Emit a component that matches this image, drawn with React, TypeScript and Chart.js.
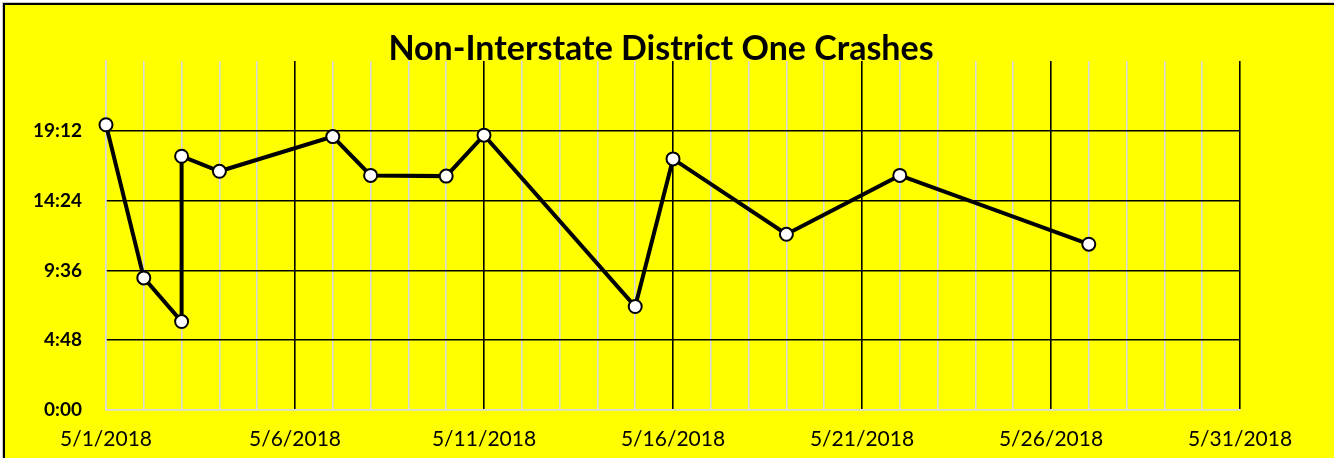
import React, { useEffect, useRef } from "react";
import { Chart, registerables } from "chart.js";

Chart.register(...registerables);

const TITLE = "Non-Interstate District One Crashes";
const crashDates = [
  "5/1/2018", "5/2/2018", "5/3/2018", "5/3/2018", "5/4/2018", "5/7/2018", "5/8/2018",
  "5/10/2018", "5/11/2018", "5/15/2018", "5/16/2018", "5/19/2018", "5/22/2018", "5/27/2018",
];
const crashTimes = [
  "19:37", "9:05", "6:05", "17:27", "16:25", "18:48", "16:08",
  "16:05", "18:54", "7:07", "17:16", "12:05", "16:08", "11:24",
];
const xMinDay = 1;
const xMaxDay = 31;
const yMaxHours = 24;
const yStepHours = 4.8;

const dayOf = (d: string) => parseInt(d.split("/")[1], 10);
const hoursOf = (t: string) => {
  const [h, m] = t.split(":").map((s) => parseInt(s, 10));
  return h + m / 60;
};
const fmtTime = (v: number) => {
  const mins = Math.round(v * 60);
  return `${Math.floor(mins / 60)}:${String(mins % 60).padStart(2, "0")}`;
};

const FONT = "Lato, 'Open Sans', sans-serif";
const GRAY = "#d9d9d9";

export default function App() {
  const ref = useRef<HTMLCanvasElement | null>(null);
  useEffect(() => {
    if (!ref.current) return;
    const titlePlugin = {
      id: "titleDraw",
      afterDraw(chart: any) {
        const ctx = chart.ctx;
        ctx.save();
        ctx.fillStyle = "#000";
        ctx.font = `bold 34px ${FONT}`;
        ctx.textAlign = "center";
        ctx.textBaseline = "alphabetic";
        ctx.fillText(TITLE, 661, 60);
        ctx.restore();
      },
    };
    const chart = new Chart(ref.current, {
      type: "line",
      data: {
        datasets: [
          {
            data: crashDates.map((d, i) => ({ x: dayOf(d), y: hoursOf(crashTimes[i]) })),
            borderColor: "#000",
            borderWidth: 4,
            pointRadius: 6.5,
            pointHoverRadius: 6.5,
            pointBackgroundColor: "#fff",
            pointBorderColor: "#000",
            pointBorderWidth: 2,
            tension: 0,
            clip: false as any,
          },
        ],
      },
      options: {
        animation: false,
        responsive: false,
        layout: { padding: { top: 61, left: 0, right: 94, bottom: 0 } },
        plugins: { legend: { display: false }, tooltip: { enabled: false }, title: { display: false } },
        scales: {
          x: {
            type: "linear",
            min: xMinDay,
            max: xMaxDay,
            afterFit: (s: any) => { s.height = 48; },
            grid: {
              drawTicks: false,
              lineWidth: 1.6,
              color: (c: any) =>
                c.tick.value === xMinDay ? GRAY : (c.tick.value - 1) % 5 === 0 ? "#000" : GRAY,
            },
            border: { color: GRAY, width: 1.6 },
            ticks: {
              stepSize: 1,
              autoSkip: false,
              maxRotation: 0,
              padding: 17,
              color: "#000",
              font: { family: FONT, size: 21 },
              callback: (v: any) => ((v - 1) % 5 === 0 ? `5/${v}/2018` : ""),
            },
          },
          y: {
            type: "linear",
            min: 0,
            max: yMaxHours,
            afterFit: (s: any) => { s.width = 106; },
            grid: {
              drawTicks: false,
              lineWidth: 1.6,
              color: (c: any) =>
                c.tick.value <= 0.001 ? GRAY : c.tick.value >= yMaxHours - 0.01 ? "rgba(0,0,0,0)" : "#000",
            },
            border: { color: GRAY, width: 1.6 },
            ticks: {
              stepSize: yStepHours,
              padding: 24,
              color: "#000",
              font: { family: FONT, size: 19, weight: "bold" },
              callback: (v: any) => (v >= yMaxHours - 0.01 ? "" : fmtTime(v)),
            },
          },
        },
      },
      plugins: [titlePlugin],
    } as any);
    return () => chart.destroy();
  }, []);
  return (
    <div style={{ position: "fixed", left: 0, top: 0, width: 1334, height: 458, background: "#fff", overflow: "hidden" }}>
      <div
        style={{
          position: "absolute",
          left: 3,
          top: 3,
          width: 1340,
          height: 470,
          background: "#ffff00",
          border: "2px solid #000",
          boxShadow: "0 0 0 1px #c8c8c8",
        }}
      />
      <canvas ref={ref} width={1334} height={458} style={{ position: "absolute", left: 0, top: 0 }} />
    </div>
  );
}
